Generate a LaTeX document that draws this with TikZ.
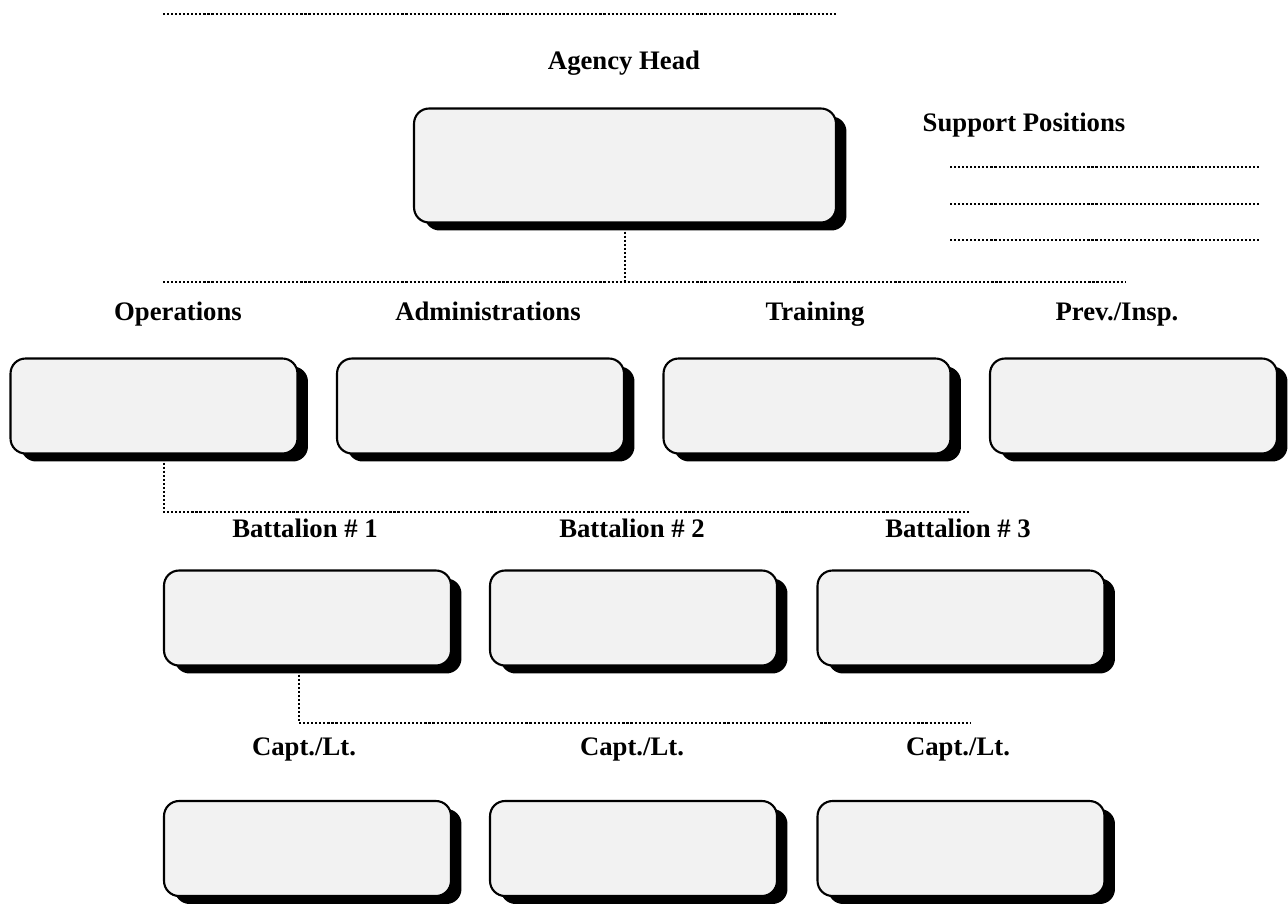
\documentclass[tikz,border=0pt]{standalone}
\usepackage{fontspec}
\setmainfont{Liberation Serif}
\usetikzlibrary{shadows}
\definecolor{boxgray}{HTML}{F2F2F2}
\begin{document}
\begin{tikzpicture}[x=0.02cm,y=-0.02cm,
                    unit box/.style={rectangle,rounded corners=0.3cm,draw,line width=1.2pt,
                      fill=boxgray,minimum width=5.74cm,minimum height=1.9cm,
                      drop shadow={shadow xshift=0.21cm,shadow yshift=-0.16cm,fill=black,opacity=1}},
                    title/.style={anchor=base,font=\fontsize{15.2}{18}\selectfont\bfseries},
                    link/.style={line width=1.3pt,dash pattern=on 1.2pt off 1.1pt},
                    blank/.style={line width=1.3pt,dash pattern=on 1.2pt off 1.1pt}]

  \useasboundingbox (0,0) rectangle (1288,909);

  % head of the agency
  \draw[blank] (163,14) -- (836,14);
  \node[title] (headlbl) at (624,70) {Agency Head};
  \node[unit box,minimum width=8.44cm,minimum height=2.28cm] (head) at (625,165.5) {};

  \node[title] (suplbl) at (1024,132) {Support Positions};
  \foreach \y in {167,204,240}
    \draw[blank] (950,\y) -- (1260,\y);

  % divisions
  \coordinate (hj) at (625,282);
  \coordinate (hw) at (163,282);
  \coordinate (he) at (1126,282);
  \draw[link] (head.south) -- (hj);
  \draw[link] (hw) -- (he);

  \node[title] (opslbl)   at (178,320) {Operations};
  \node[title] (admlbl)   at (488,320) {Administrations};
  \node[title] (trnlbl)   at (815,320) {Training};
  \node[title] (prevlbl)  at (1117,320) {Prev./Insp.};

  \node[unit box] (ops)  at (154,406) {};
  \node[unit box] (adm)  at (480.5,406) {};
  \node[unit box] (trn)  at (807,406) {};
  \node[unit box] (prev) at (1133.5,406) {};

  % battalions
  \coordinate (oj) at (164,512);
  \coordinate (oe) at (970,512);
  \draw[link] (ops.south -| oj) -- (oj) -- (oe);

  \node[title] (bat1lbl) at (305,537) {Battalion \# 1};
  \node[title] (bat2lbl) at (632,537) {Battalion \# 2};
  \node[title] (bat3lbl) at (958,537) {Battalion \# 3};

  \node[unit box] (bat1) at (307.5,618) {};
  \node[unit box] (bat2) at (633.5,618) {};
  \node[unit box] (bat3) at (961,618) {};

  % companies
  \coordinate (bj) at (299,723);
  \coordinate (be) at (970,723);
  \draw[link] (bat1.south -| bj) -- (bj) -- (be);

  \node[title] (cap1lbl) at (304,755) {Capt./Lt.};
  \node[title] (cap2lbl) at (632,755) {Capt./Lt.};
  \node[title] (cap3lbl) at (958,755) {Capt./Lt.};

  \node[unit box] (cap1) at (307.5,848.5) {};
  \node[unit box] (cap2) at (633.5,848.5) {};
  \node[unit box] (cap3) at (961,848.5) {};
\end{tikzpicture}
\end{document}
